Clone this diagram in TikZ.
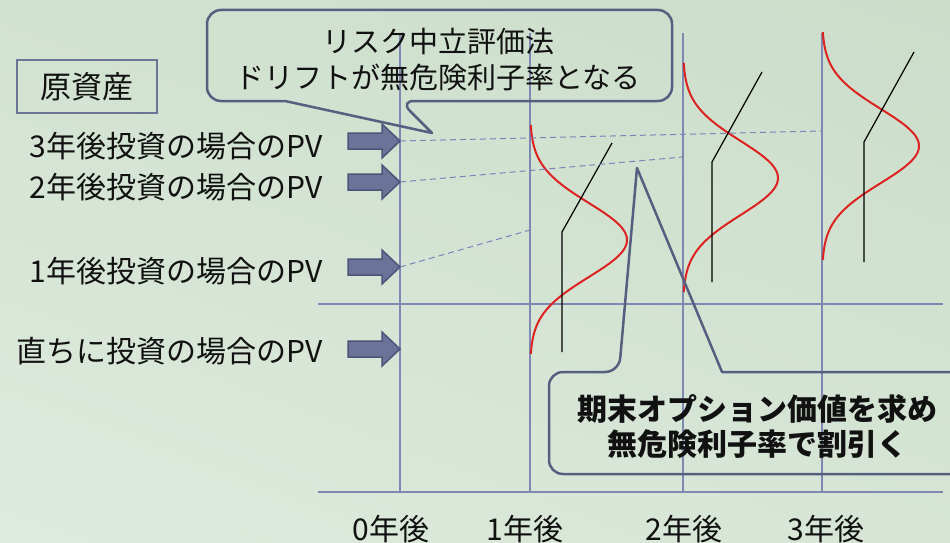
\documentclass[tikz,border=0pt]{standalone}
\usepackage{fontspec}
\usetikzlibrary{shadings}
\setmainfont{Noto Sans CJK JP}
\definecolor{bgUL}{HTML}{D2E2D1}
\definecolor{bgUR}{HTML}{CBDECA}
\definecolor{bgLL}{HTML}{DEEADE}
\definecolor{bgLR}{HTML}{D6E5D5}
\definecolor{gridc}{HTML}{7F88B0}
\definecolor{dashc}{HTML}{7A84B8}
\definecolor{bellred}{HTML}{DD2222}
\definecolor{callc}{HTML}{565F80}
\definecolor{arrfill}{HTML}{6B7399}
\definecolor{arrdraw}{HTML}{4C5478}
\definecolor{boxc}{HTML}{6D7596}
\definecolor{txt}{HTML}{111111}
\begin{document}
\begin{tikzpicture}[x=1pt,y=-1pt,
  grid/.style={draw=gridc, line width=1.3pt},
  dashln/.style={draw=dashc, line width=1pt, dash pattern=on 6pt off 4pt},
  bell/.style={draw=bellred, line width=2pt},
  payoff/.style={draw=black, line width=1.2pt},
  callout/.style={draw=callc, line width=2.5pt, line join=round},
  blockarr/.style={fill=arrfill, draw=arrdraw, line width=1.5pt, line join=miter},
  lbl/.style={font=\fontsize{30}{32}\selectfont, text=txt, inner sep=0pt, anchor=base east},
  axl/.style={font=\fontsize{30}{32}\selectfont, text=txt, inner sep=0pt},
]
\useasboundingbox (0,0) rectangle (950,543);
\clip (0,0) rectangle (950,543);
\shade[upper left=bgUL, upper right=bgUR, lower left=bgLL, lower right=bgLR] (0,0) rectangle (950,543);

% grid
\foreach \x/\n in {400/0, 530/1, 683/2, 822/3}{
  \coordinate (vt\n) at (\x,33);
  \coordinate (vb\n) at (\x,492);
  \draw[grid] (vt\n) -- (vb\n);
}
\coordinate (hm1) at (318,304); \coordinate (hm2) at (943,304);
\coordinate (hb1) at (318,492); \coordinate (hb2) at (943,492);
\draw[grid] (hm1) -- (hm2);
\draw[grid] (hb1) -- (hb2);

% bell curves
\draw[bell] plot[domain=-115:114, samples=90, smooth] ({530+97*exp(-0.5*(\x/37)*(\x/37))}, {240+\x});
\draw[bell] plot[domain=-115:114, samples=90, smooth] ({683+95*exp(-0.5*(\x/37)*(\x/37))}, {178+\x});
\draw[bell] plot[domain=-114:114, samples=90, smooth] ({822+97*exp(-0.5*(\x/37)*(\x/37))}, {146+\x});

% payoff lines
\coordinate (p1a) at (562,352); \coordinate (p1b) at (562,232); \coordinate (p1c) at (612,143);
\coordinate (p2a) at (712,282); \coordinate (p2b) at (712,162); \coordinate (p2c) at (762,72);
\coordinate (p3a) at (864,262); \coordinate (p3b) at (864,142); \coordinate (p3c) at (914,52);
\draw[payoff] (p1a) -- (p1b) -- (p1c);
\draw[payoff] (p2a) -- (p2b) -- (p2c);
\draw[payoff] (p3a) -- (p3b) -- (p3c);

% block arrows
\foreach \c/\n in {141/3, 182/2, 267/1, 349/0}{
  \draw[blockarr] (348,{\c-8}) -- (382,{\c-8}) -- (382,{\c-17}) -- (400,\c) -- (382,{\c+17}) -- (382,{\c+8}) -- (348,{\c+8}) -- cycle;
  \coordinate (tip\n) at (400,\c);
}

% dashed lines
\coordinate (de3) at (822,131);
\coordinate (de2) at (683,157);
\coordinate (de1) at (530,230);
\draw[dashln] (tip3) -- (de3);
\draw[dashln] (tip2) -- (de2);
\draw[dashln] (tip1) -- (de1);

% labels
\node[lbl] (l3) at (323,157) {3年後投資の場合のPV};
\node[lbl] (l2) at (323,198) {2年後投資の場合のPV};
\node[lbl] (l1) at (323,282) {1年後投資の場合のPV};
\node[lbl] (l0) at (323,362) {直ちに投資の場合のPV};

% underlying asset box
\node[draw=boxc, line width=1.3pt, minimum width=140pt, minimum height=53pt, inner sep=0pt,
      font=\fontsize{31}{33}\selectfont, text=txt] (gen) at (87,86.5) {原資産};

% top callout
\draw[callout] (285,101) [rounded corners=14pt] -- (207,101) -- (207,10) -- (672,10) -- (672,101) -- (400,101) [sharp corners] -- (432,133) -- cycle;
\node[align=center, font=\fontsize{29}{36}\selectfont, text=txt, inner sep=0pt] (rn) at (438,60) {リスク中立評価法\\ドリフトが無危険利子率となる};

% bottom callout
\draw[callout] (722,372) [rounded corners=14pt] -- (965,372) -- (965,474) -- (549,474) -- (549,372) -- (619,372) [sharp corners] -- (637,168) -- cycle;
\node[align=center, font=\fontsize{30}{35}\selectfont\bfseries, text=txt, inner sep=0pt] (opt) at (757,427) {期末オプション価値を求め\\無危険利子率で割引く};

% axis labels
\node[axl] (t0) at (391,529) {0年後};
\node[axl] (t1) at (525,529) {1年後};
\node[axl] (t2) at (684,529) {2年後};
\node[axl] (t3) at (826,529) {3年後};
\end{tikzpicture}
\end{document}
